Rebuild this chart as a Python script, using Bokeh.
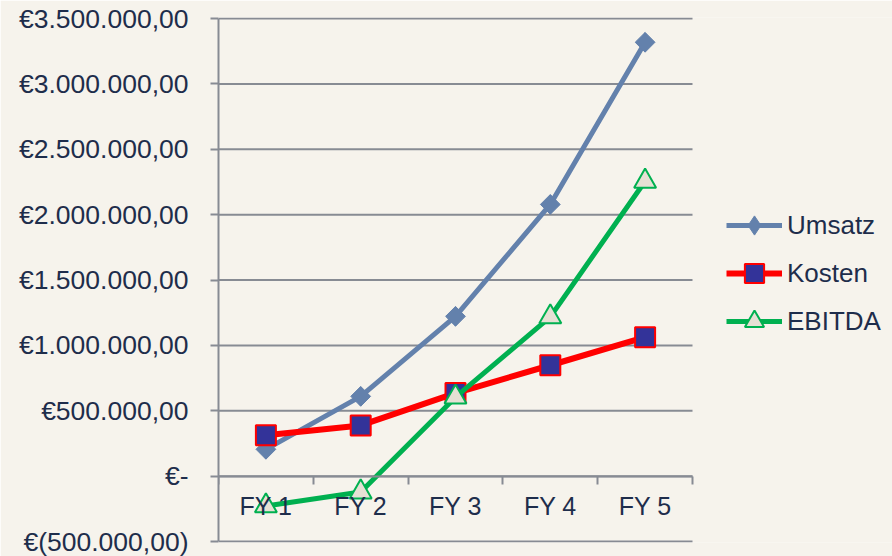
from bokeh.plotting import figure
from bokeh.models import (Range1d, FixedTicker, LinearAxis, Legend, LegendItem)
from bokeh.embed import file_html
from bokeh.resources import INLINE
import numpy as np

# ---- data ----
categories = ["FY 1", "FY 2", "FY 3", "FY 4", "FY 5"]
cat_pos = [1, 2, 3, 4, 5]
cat_bounds = [0.5, 1.5, 2.5, 3.5, 4.5, 5.5]
umsatz = [205000, 610000, 1222000, 2078000, 3318000]
kosten = [312000, 388000, 635000, 848000, 1063000]
ebitda = [-228000, -122000, 604000, 1218000, 2255000]
y_ticks = [-500000, 0, 500000, 1000000, 1500000, 2000000, 2500000, 3000000, 3500000]
y_tick_labels = ["€(500.000,00)", "€-", "€500.000,00", "€1.000.000,00", "€1.500.000,00",
                 "€2.000.000,00", "€2.500.000,00", "€3.000.000,00", "€3.500.000,00"]

BG = "#F6F3EC"
GRID = "#878B93"
TXT = "#1E2D4B"
FONT = "Liberation Sans"

W, H = 892, 556
LEFT, TOP, BOTTOM = 218, 17, 14
PLOT_W = 474          # width of the category area in px
frame_w = W - LEFT
frame_h = H - TOP - BOTTOM
x_end = cat_bounds[0] + (cat_bounds[-1] - cat_bounds[0]) * frame_w / PLOT_W
y_pad = (y_ticks[-1] - y_ticks[0]) / (frame_h - 2)

p = figure(width=W, height=H, output_backend="svg", toolbar_location=None,
           x_range=Range1d(cat_bounds[0], x_end),
           y_range=Range1d(y_ticks[0] - y_pad, y_ticks[-1] + y_pad),
           x_axis_location=None, y_axis_location="left",
           min_border_left=LEFT, min_border_right=0, min_border_top=TOP, min_border_bottom=BOTTOM)
p.background_fill_color = BG
p.border_fill_color = BG
p.outline_line_color = None
p.xgrid.visible = False
p.ygrid.visible = False

# y axis
yax = p.yaxis[0]
yax.ticker = FixedTicker(ticks=y_ticks)
yax.major_label_overrides = {t: l for t, l in zip(y_ticks, y_tick_labels)}
yax.major_tick_out = 8
yax.major_tick_in = 0
yax.minor_tick_line_color = None
yax.major_tick_line_color = GRID
yax.major_tick_line_width = 2
yax.axis_line_color = GRID
yax.axis_line_width = 2
yax.bounds = (y_ticks[0], y_ticks[-1])
yax.major_label_standoff = 22
yax.major_label_text_font = FONT
yax.major_label_text_font_size = "26.5px"
yax.major_label_text_color = TXT

# horizontal gridlines across the category area only
p.segment(x0=cat_bounds[0], x1=cat_bounds[-1], y0=y_ticks, y1=y_ticks,
          line_color=GRID, line_width=2)

# x axis crossing at zero
xax = LinearAxis(fixed_location=0, bounds=(cat_bounds[0], cat_bounds[-1]),
                 ticker=FixedTicker(ticks=cat_pos, minor_ticks=cat_bounds),
                 major_label_overrides={c: l for c, l in zip(cat_pos, categories)})
xax.major_tick_out = 0
xax.major_tick_in = 0
xax.minor_tick_out = 8
xax.minor_tick_in = 0
xax.minor_tick_line_color = GRID
xax.minor_tick_line_width = 2
xax.axis_line_color = GRID
xax.axis_line_width = 2
xax.major_label_standoff = 8
xax.major_label_text_font = FONT
xax.major_label_text_font_size = "25px"
xax.major_label_text_color = TXT
p.add_layout(xax, "below")

# series
c_u = "#6381AC"
l1 = p.line(cat_pos, umsatz, line_color=c_u, line_width=5)
m1b = p.scatter(cat_pos, umsatz, marker="diamond", size=19,
                fill_color=c_u, line_color=c_u)
m1 = p.scatter(cat_pos, umsatz, marker="square", angle=np.pi / 4, size=14,
               fill_color=c_u, line_color=c_u)

l2 = p.line(cat_pos, kosten, line_color="#FF0000", line_width=6)
m2 = p.scatter(cat_pos, kosten, marker="square", size=20,
               fill_color="#333399", line_color="#FF0000", line_width=2)

l3 = p.line(cat_pos, ebitda, line_color="#00B050", line_width=5)
m3 = p.scatter(cat_pos, ebitda, marker="triangle", size=22,
               fill_color="#E6E0D4", line_color="#00B050", line_width=2)

legend = Legend(items=[LegendItem(label="Umsatz", renderers=[l1, m1b]),
                       LegendItem(label="Kosten", renderers=[l2, m2]),
                       LegendItem(label="EBITDA", renderers=[l3, m3])],
                location=(508, 197), orientation="vertical")
legend.padding = 0
legend.margin = 0
legend.spacing = 0
legend.glyph_width = 56
legend.glyph_height = 48
legend.label_height = 48
legend.label_standoff = 5
legend.label_text_font = FONT
legend.label_text_font_size = "26px"
legend.label_text_color = TXT
legend.border_line_alpha = 0
legend.background_fill_alpha = 0
p.add_layout(legend, "center")

open("out.html", "w").write(file_html(p, INLINE))
